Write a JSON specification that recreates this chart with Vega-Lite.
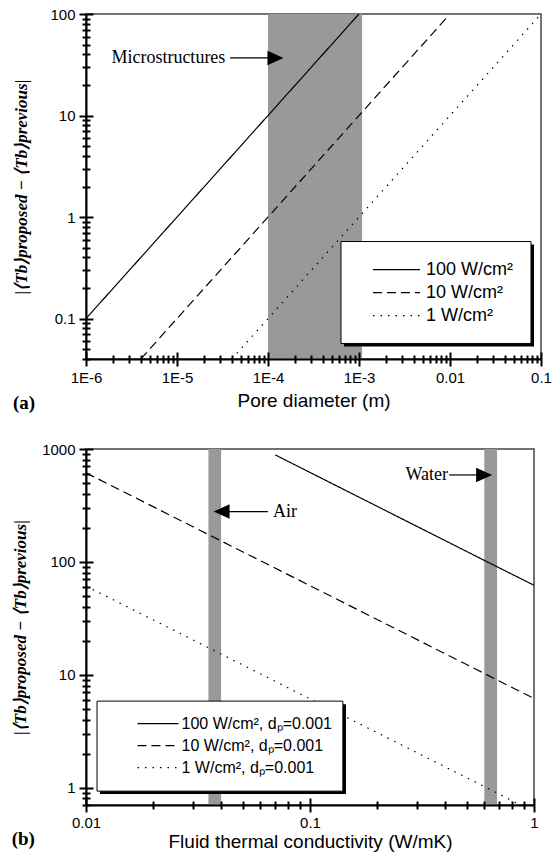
{
  "$schema": "https://vega.github.io/schema/vega-lite/v6.json",
  "background": "white",
  "padding": {"left": 10, "top": 6, "right": 6, "bottom": 2},
  "bounds": "flush",
  "spacing": 90,
  "resolve": {"scale": {"x": "independent", "y": "independent", "strokeDash": "independent"}},
  "datasets": {
    "a_lines": [
      {"series": "100 W/cm²", "d": 0.000001, "v": 0.1},
      {"series": "100 W/cm²", "d": 0.00001, "v": 1},
      {"series": "100 W/cm²", "d": 0.0001, "v": 10},
      {"series": "100 W/cm²", "d": 0.001, "v": 100},
      {"series": "10 W/cm²", "d": 0.000004, "v": 0.04},
      {"series": "10 W/cm²", "d": 0.00001, "v": 0.1},
      {"series": "10 W/cm²", "d": 0.0001, "v": 1},
      {"series": "10 W/cm²", "d": 0.001, "v": 10},
      {"series": "10 W/cm²", "d": 0.0095, "v": 95},
      {"series": "1 W/cm²", "d": 0.00004, "v": 0.04},
      {"series": "1 W/cm²", "d": 0.0001, "v": 0.1},
      {"series": "1 W/cm²", "d": 0.001, "v": 1},
      {"series": "1 W/cm²", "d": 0.01, "v": 10},
      {"series": "1 W/cm²", "d": 0.1, "v": 100}
    ],
    "a_band": [{"x1": 0.0001, "x2": 0.00108, "y1": 0.04, "y2": 100}],
    "a_box": [
      {"part": "shadow", "x1": 0.000684, "x2": 0.0838, "y1": 0.0532, "y2": 0.536},
      {"part": "box", "x1": 0.000634, "x2": 0.0776, "y1": 0.0569, "y2": 0.574}
    ],
    "a_notes": [
      {"label": "Microstructures", "dir": "right", "x_text": 0.000034, "x_tail": 0.0000382, "x_end": 0.000103, "x_head": 0.0001208, "y": 36.9}
    ],
    "b_lines": [
      {"series": "100 W/cm², dₚ=0.001", "k": 0.07, "v": 886},
      {"series": "100 W/cm², dₚ=0.001", "k": 0.1, "v": 620},
      {"series": "100 W/cm², dₚ=0.001", "k": 0.6, "v": 103},
      {"series": "100 W/cm², dₚ=0.001", "k": 1, "v": 62},
      {"series": "10 W/cm², dₚ=0.001", "k": 0.01, "v": 615},
      {"series": "10 W/cm², dₚ=0.001", "k": 0.037, "v": 166},
      {"series": "10 W/cm², dₚ=0.001", "k": 0.1, "v": 61.5},
      {"series": "10 W/cm², dₚ=0.001", "k": 0.6, "v": 10.25},
      {"series": "10 W/cm², dₚ=0.001", "k": 1, "v": 6.15},
      {"series": "1 W/cm², dₚ=0.001", "k": 0.01, "v": 61},
      {"series": "1 W/cm², dₚ=0.001", "k": 0.037, "v": 16.5},
      {"series": "1 W/cm², dₚ=0.001", "k": 0.1, "v": 6.1},
      {"series": "1 W/cm², dₚ=0.001", "k": 0.6, "v": 1.02},
      {"series": "1 W/cm², dₚ=0.001", "k": 0.87, "v": 0.7}
    ],
    "b_band": [
      {"fluid": "air", "x1": 0.0352, "x2": 0.0401, "y1": 0.7, "y2": 1000},
      {"fluid": "water", "x1": 0.6, "x2": 0.684, "y1": 0.7, "y2": 1000}
    ],
    "b_box": [
      {"part": "shadow", "x1": 0.01155, "x2": 0.1447, "y1": 0.874, "y2": 5.48},
      {"part": "box", "x1": 0.0112, "x2": 0.1402, "y1": 0.929, "y2": 5.83}
    ],
    "b_notes": [
      {"label": "Air", "dir": "left", "x_text": 0.0684, "x_tail": 0.0649, "x_end": 0.0435, "x_head": 0.0403, "y": 279},
      {"label": "Water", "dir": "right", "x_text": 0.413, "x_tail": 0.418, "x_end": 0.56, "x_head": 0.599, "y": 589}
    ]
  },
  "vconcat": [
    {
      "width": 455,
      "height": 345,
      "title": {"text": "(a)", "orient": "bottom", "anchor": "start", "frame": "bounds", "font": "Liberation Serif", "fontWeight": "bold", "fontSize": 19, "color": "black", "offset": 0, "dy": -16},
      "resolve": {"axis": {"x": "independent", "y": "independent"}},
      "layer": [
        {
          "data": {"name": "a_band"},
          "mark": {"type": "rect", "color": "#999999"},
          "encoding": {
            "x": {"field": "x1", "type": "quantitative", "scale": {"type": "log", "domain": [0.000001, 0.1], "nice": false},
              "axis": {"orient": "bottom", "values": [0.000001, 0.00001, 0.0001, 0.001, 0.01, 0.1], "labels": false, "domain": false, "title": null, "zindex": 1, "tickSize": -7}},
            "x2": {"field": "x2"},
            "y": {"field": "y1", "type": "quantitative", "scale": {"type": "log", "domain": [0.04, 100], "nice": false},
              "axis": {"orient": "left", "values": [0.1, 1, 10, 100], "labels": false, "domain": false, "title": null, "zindex": 1, "tickSize": -7}},
            "y2": {"field": "y2"}
          }
        },
        {
          "data": {"name": "a_lines"},
          "mark": {"type": "line", "color": "black", "strokeWidth": 1.2, "clip": true},
          "encoding": {
            "x": {"field": "d", "type": "quantitative", "scale": {"type": "log", "domain": [0.000001, 0.1], "nice": false},
              "axis": {"orient": "bottom", "values": [0.000001, 0.00001, 0.0001, 0.001, 0.01, 0.1],
                "labelExpr": "datum.value < 0.005 ? '1E' + round(log(datum.value)/LN10) : format(datum.value, '')",
                "tickSize": 7, "labelPadding": 4, "title": "Pore diameter (m)", "titlePadding": 6, "zindex": 1}},
            "y": {"field": "v", "type": "quantitative", "scale": {"type": "log", "domain": [0.04, 100], "nice": false},
              "axis": {"orient": "left", "values": [0.1, 1, 10, 100], "labelExpr": "format(datum.value, '')", "tickSize": 7, "labelPadding": 4,
                "title": "|⟨Tb⟩proposed − ⟨Tb⟩previous|", "titleFont": "Liberation Serif", "titleFontStyle": "italic", "titleFontWeight": "bold", "titleFontSize": 17, "titlePadding": 19, "zindex": 1}},
            "strokeDash": {"field": "series", "type": "nominal",
              "scale": {"domain": ["100 W/cm²", "10 W/cm²", "1 W/cm²"], "range": [[1, 0], [9, 5], [1.5, 6]]},
              "legend": {"orient": "none", "legendX": 299.5, "legendY": 244.7, "title": null, "symbolType": "M-2.35,0H2.35", "symbolSize": 400, "symbolStrokeWidth": 1.2, "symbolStrokeColor": "black", "labelFontSize": 18, "labelFont": "Liberation Sans", "labelColor": "black", "labelOffset": 18.5, "rowPadding": 3, "padding": 0}}
          }
        },
        {
          "data": {"name": "a_box"},
          "transform": [{"filter": "datum.part == 'shadow'"}],
          "mark": {"type": "rect", "color": "black"},
          "encoding": {
            "x": {"field": "x1", "type": "quantitative", "scale": {"type": "log", "domain": [0.000001, 0.1], "nice": false},
              "axis": {"orient": "bottom", "values": [0.000002,0.000003,0.000004,0.000005,0.000006,0.000007,0.000008,0.000009,0.00002,0.00003,0.00004,0.00005,0.00006,0.00007,0.00008,0.00009,0.0002,0.0003,0.0004,0.0005,0.0006,0.0007,0.0008,0.0009,0.002,0.003,0.004,0.005,0.006,0.007,0.008,0.009,0.02,0.03,0.04,0.05,0.06,0.07,0.08,0.09], "labels": false, "domain": false, "title": null, "zindex": 1, "tickSize": 4}},
            "x2": {"field": "x2"},
            "y": {"field": "y1", "type": "quantitative", "scale": {"type": "log", "domain": [0.04, 100], "nice": false},
              "axis": {"orient": "left", "values": [0.04,0.05,0.06,0.07,0.08,0.09,0.2,0.3,0.4,0.5,0.6,0.7,0.8,0.9,2,3,4,5,6,7,8,9,20,30,40,50,60,70,80,90], "labels": false, "domain": false, "title": null, "zindex": 1, "tickSize": 4}},
            "y2": {"field": "y2"}
          }
        },
        {
          "data": {"name": "a_box"},
          "transform": [{"filter": "datum.part == 'box'"}],
          "mark": {"type": "rect", "fill": "white", "stroke": "black", "strokeWidth": 1},
          "encoding": {
            "x": {"field": "x1", "type": "quantitative", "scale": {"type": "log", "domain": [0.000001, 0.1], "nice": false},
              "axis": {"orient": "bottom", "values": [0.000002,0.000003,0.000004,0.000005,0.000006,0.000007,0.000008,0.000009,0.00002,0.00003,0.00004,0.00005,0.00006,0.00007,0.00008,0.00009,0.0002,0.0003,0.0004,0.0005,0.0006,0.0007,0.0008,0.0009,0.002,0.003,0.004,0.005,0.006,0.007,0.008,0.009,0.02,0.03,0.04,0.05,0.06,0.07,0.08,0.09], "labels": false, "domain": false, "title": null, "zindex": 1, "tickSize": -4}},
            "x2": {"field": "x2"},
            "y": {"field": "y1", "type": "quantitative", "scale": {"type": "log", "domain": [0.04, 100], "nice": false},
              "axis": {"orient": "left", "values": [0.04,0.05,0.06,0.07,0.08,0.09,0.2,0.3,0.4,0.5,0.6,0.7,0.8,0.9,2,3,4,5,6,7,8,9,20,30,40,50,60,70,80,90], "labels": false, "domain": false, "title": null, "zindex": 1, "tickSize": -4}},
            "y2": {"field": "y2"}
          }
        },
        {
          "data": {"name": "a_notes"},
          "mark": {"type": "rule", "color": "black", "strokeWidth": 1.2},
          "encoding": {
            "x": {"field": "x_tail", "type": "quantitative", "scale": {"type": "log", "domain": [0.000001, 0.1], "nice": false}, "axis": null},
            "x2": {"field": "x_end"},
            "y": {"field": "y", "type": "quantitative", "scale": {"type": "log", "domain": [0.04, 100], "nice": false}, "axis": null}
          }
        },
        {
          "data": {"name": "a_notes"},
          "mark": {"type": "point", "filled": true, "color": "black", "opacity": 1, "size": 256, "shape": "M-1,-0.9L1,0L-1,0.9Z"},
          "encoding": {
            "x": {"field": "x_head", "type": "quantitative", "scale": {"type": "log", "domain": [0.000001, 0.1], "nice": false}, "axis": null},
            "y": {"field": "y", "type": "quantitative", "scale": {"type": "log", "domain": [0.04, 100], "nice": false}, "axis": null}
          }
        },
        {
          "data": {"name": "a_notes"},
          "mark": {"type": "text", "align": "right", "baseline": "middle", "font": "Liberation Serif", "fontSize": 18, "color": "black"},
          "encoding": {
            "x": {"field": "x_text", "type": "quantitative", "scale": {"type": "log", "domain": [0.000001, 0.1], "nice": false}, "axis": null},
            "y": {"field": "y", "type": "quantitative", "scale": {"type": "log", "domain": [0.04, 100], "nice": false}, "axis": null},
            "text": {"field": "label"}
          }
        }
      ]
    },
    {
      "width": 448,
      "height": 356,
      "title": {"text": "(b)", "orient": "bottom", "anchor": "start", "frame": "bounds", "font": "Liberation Serif", "fontWeight": "bold", "fontSize": 19, "color": "black", "offset": 0, "dy": -21},
      "resolve": {"axis": {"x": "independent", "y": "independent"}},
      "layer": [
        {
          "data": {"name": "b_band"},
          "mark": {"type": "rect", "color": "#999999"},
          "encoding": {
            "x": {"field": "x1", "type": "quantitative", "scale": {"type": "log", "domain": [0.01, 1], "nice": false},
              "axis": {"orient": "bottom", "values": [0.01, 0.1, 1], "labels": false, "domain": false, "title": null, "zindex": 1, "tickSize": -7}},
            "x2": {"field": "x2"},
            "y": {"field": "y1", "type": "quantitative", "scale": {"type": "log", "domain": [0.7, 1000], "nice": false},
              "axis": {"orient": "left", "values": [1, 10, 100, 1000], "labels": false, "domain": false, "title": null, "zindex": 1, "tickSize": -7}},
            "y2": {"field": "y2"}
          }
        },
        {
          "data": {"name": "b_lines"},
          "mark": {"type": "line", "color": "black", "strokeWidth": 1.2, "clip": true},
          "encoding": {
            "x": {"field": "k", "type": "quantitative", "scale": {"type": "log", "domain": [0.01, 1], "nice": false},
              "axis": {"orient": "bottom", "values": [0.01, 0.1, 1], "labelExpr": "format(datum.value, '')", "tickSize": 7, "labelPadding": 3,
                "title": "Fluid thermal conductivity (W/mK)", "titlePadding": 2, "zindex": 1}},
            "y": {"field": "v", "type": "quantitative", "scale": {"type": "log", "domain": [0.7, 1000], "nice": false},
              "axis": {"orient": "left", "values": [1, 10, 100, 1000], "labelExpr": "format(datum.value, '')", "tickSize": 7, "labelPadding": 4,
                "title": "|⟨Tb⟩proposed − ⟨Tb⟩previous|", "titleFont": "Liberation Serif", "titleFontStyle": "italic", "titleFontWeight": "bold", "titleFontSize": 17, "titlePadding": 12, "zindex": 1}},
            "strokeDash": {"field": "series", "type": "nominal",
              "scale": {"domain": ["100 W/cm², dₚ=0.001", "10 W/cm², dₚ=0.001", "1 W/cm², dₚ=0.001"], "range": [[1, 0], [9, 5], [1.5, 6]]},
              "legend": {"orient": "none", "legendX": 62, "legendY": 264.6, "title": null, "symbolType": "M-2.28,0H2.28", "symbolSize": 324, "symbolStrokeWidth": 1.2, "symbolStrokeColor": "black", "labelFontSize": 16, "labelFont": "Liberation Sans", "labelColor": "black", "labelOffset": 13.5, "rowPadding": 4, "padding": 0}}
          }
        },
        {
          "data": {"name": "b_box"},
          "transform": [{"filter": "datum.part == 'shadow'"}],
          "mark": {"type": "rect", "color": "black"},
          "encoding": {
            "x": {"field": "x1", "type": "quantitative", "scale": {"type": "log", "domain": [0.01, 1], "nice": false},
              "axis": {"orient": "bottom", "values": [0.02,0.03,0.04,0.05,0.06,0.07,0.08,0.09,0.2,0.3,0.4,0.5,0.6,0.7,0.8,0.9], "labels": false, "domain": false, "title": null, "zindex": 1, "tickSize": 4}},
            "x2": {"field": "x2"},
            "y": {"field": "y1", "type": "quantitative", "scale": {"type": "log", "domain": [0.7, 1000], "nice": false},
              "axis": {"orient": "left", "values": [0.7,0.8,0.9,2,3,4,5,6,7,8,9,20,30,40,50,60,70,80,90,200,300,400,500,600,700,800,900], "labels": false, "domain": false, "title": null, "zindex": 1, "tickSize": 4}},
            "y2": {"field": "y2"}
          }
        },
        {
          "data": {"name": "b_box"},
          "transform": [{"filter": "datum.part == 'box'"}],
          "mark": {"type": "rect", "fill": "white", "stroke": "black", "strokeWidth": 1},
          "encoding": {
            "x": {"field": "x1", "type": "quantitative", "scale": {"type": "log", "domain": [0.01, 1], "nice": false},
              "axis": {"orient": "bottom", "values": [0.02,0.03,0.04,0.05,0.06,0.07,0.08,0.09,0.2,0.3,0.4,0.5,0.6,0.7,0.8,0.9], "labels": false, "domain": false, "title": null, "zindex": 1, "tickSize": -4}},
            "x2": {"field": "x2"},
            "y": {"field": "y1", "type": "quantitative", "scale": {"type": "log", "domain": [0.7, 1000], "nice": false},
              "axis": {"orient": "left", "values": [0.7,0.8,0.9,2,3,4,5,6,7,8,9,20,30,40,50,60,70,80,90,200,300,400,500,600,700,800,900], "labels": false, "domain": false, "title": null, "zindex": 1, "tickSize": -4}},
            "y2": {"field": "y2"}
          }
        },
        {
          "data": {"name": "b_notes"},
          "mark": {"type": "rule", "color": "black", "strokeWidth": 1.2},
          "encoding": {
            "x": {"field": "x_tail", "type": "quantitative", "scale": {"type": "log", "domain": [0.01, 1], "nice": false}, "axis": null},
            "x2": {"field": "x_end"},
            "y": {"field": "y", "type": "quantitative", "scale": {"type": "log", "domain": [0.7, 1000], "nice": false}, "axis": null}
          }
        },
        {
          "data": {"name": "b_notes"},
          "mark": {"type": "point", "filled": true, "color": "black", "opacity": 1, "size": 256},
          "encoding": {
            "x": {"field": "x_head", "type": "quantitative", "scale": {"type": "log", "domain": [0.01, 1], "nice": false}, "axis": null},
            "y": {"field": "y", "type": "quantitative", "scale": {"type": "log", "domain": [0.7, 1000], "nice": false}, "axis": null},
            "shape": {"field": "dir", "type": "nominal", "scale": {"domain": ["right", "left"], "range": ["M-1,-0.9L1,0L-1,0.9Z", "M1,-0.9L-1,0L1,0.9Z"]}, "legend": null}
          }
        },
        {
          "data": {"name": "b_notes"},
          "transform": [{"filter": "datum.dir == 'left'"}],
          "mark": {"type": "text", "align": "left", "baseline": "middle", "font": "Liberation Serif", "fontSize": 18, "color": "black"},
          "encoding": {
            "x": {"field": "x_text", "type": "quantitative", "scale": {"type": "log", "domain": [0.01, 1], "nice": false}, "axis": null},
            "y": {"field": "y", "type": "quantitative", "scale": {"type": "log", "domain": [0.7, 1000], "nice": false}, "axis": null},
            "text": {"field": "label"}
          }
        },
        {
          "data": {"name": "b_notes"},
          "transform": [{"filter": "datum.dir == 'right'"}],
          "mark": {"type": "text", "align": "right", "baseline": "middle", "font": "Liberation Serif", "fontSize": 18, "color": "black"},
          "encoding": {
            "x": {"field": "x_text", "type": "quantitative", "scale": {"type": "log", "domain": [0.01, 1], "nice": false}, "axis": null},
            "y": {"field": "y", "type": "quantitative", "scale": {"type": "log", "domain": [0.7, 1000], "nice": false}, "axis": null},
            "text": {"field": "label"}
          }
        }
      ]
    }
  ],
  "config": {
    "font": "Liberation Sans",
    "view": {"stroke": "#444444", "strokeWidth": 1.5},
    "axis": {
      "grid": false,
      "domainColor": "black",
      "domainWidth": 2,
      "tickColor": "black",
      "tickWidth": 2,
      "labelColor": "black",
      "labelFont": "Liberation Sans",
      "labelFontSize": 15,
      "labelFlush": false,
      "labelOverlap": false,
      "titleColor": "black",
      "titleFont": "Liberation Sans",
      "titleFontSize": 19,
      "titleFontWeight": "normal"
    }
  }
}
